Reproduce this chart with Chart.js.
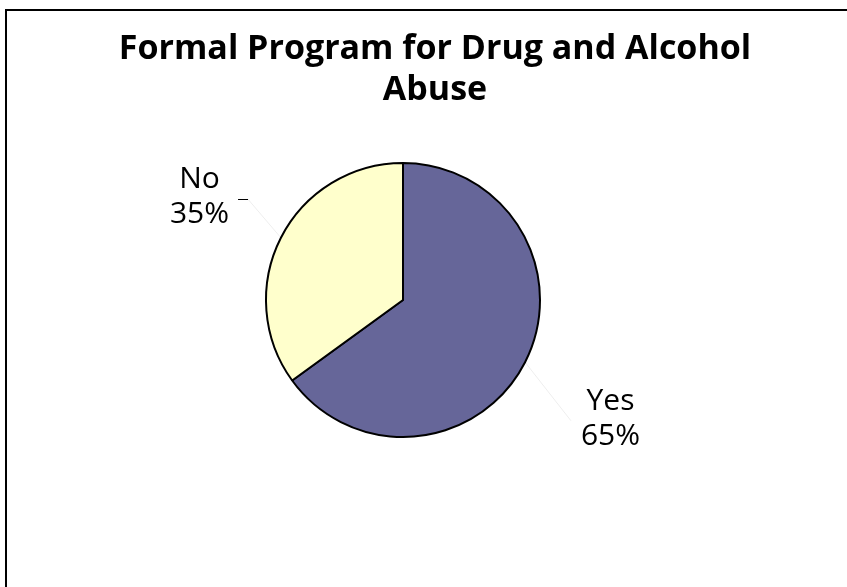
<!DOCTYPE html>
<html>
<head>
<meta charset="utf-8">
<script src="https://cdn.jsdelivr.net/npm/chart.js@4/dist/chart.umd.min.js"></script>
<style>
  html, body { margin: 0; padding: 0; background: #fff; }
  #wrap { position: relative; width: 847px; height: 587px; }
</style>
</head>
<body>
<div id="wrap"><canvas id="c" width="847" height="587"></canvas></div>
<script>
const titleLines = ['Formal Program for Drug and Alcohol', 'Abuse'];
const categories = ['Yes', 'No'];
const values = [65, 35];
const colors = ['#666699', '#FFFFCC'];

const frameAndText = {
  id: 'frameAndText',
  afterDraw(chart) {
    const ctx = chart.ctx;
    ctx.save();
    // outer frame (left & top edges visible)
    ctx.strokeStyle = '#000';
    ctx.lineWidth = 2;
    ctx.beginPath();
    ctx.moveTo(6, 600);
    ctx.lineTo(6, 10);
    ctx.lineTo(860, 10);
    ctx.stroke();

    // title
    ctx.fillStyle = '#000';
    ctx.font = 'bold 34px "Open Sans", "DejaVu Sans", sans-serif';
    ctx.textAlign = 'center';
    ctx.textBaseline = 'alphabetic';
    ctx.fillText(titleLines[0], 435, 59);
    ctx.fillText(titleLines[1], 435, 100);

    // data labels
    const meta = chart.getDatasetMeta(0);
    const total = values.reduce((a, b) => a + b, 0);
    const labelFont = '30px "Open Sans", "DejaVu Sans", sans-serif';
    meta.data.forEach((arc, i) => {
      const p = arc.getProps(['x', 'y', 'startAngle', 'endAngle', 'outerRadius'], true);
      const mid = (p.startAngle + p.endAngle) / 2;
      const dx = Math.cos(mid), dy = Math.sin(mid);
      const r = p.outerRadius;
      const right = dx > 0;
      // label block centre
      const lx = p.x + dx * r * 1.7 + (right ? 0 : 4);
      const ly = p.y + dy * r * 1.7 + (right ? 10 : 0);
      const pct = Math.round(values[i] / total * 100) + '%';
      ctx.font = labelFont;
      const w = Math.max(ctx.measureText(categories[i]).width, ctx.measureText(pct).width);
      const ex = p.x + dx * r, ey = p.y + dy * r;
      const midY = ly + 5;
      // faint leader line
      ctx.strokeStyle = 'rgba(0,0,0,0.07)';
      ctx.lineWidth = 1;
      ctx.beginPath();
      ctx.moveTo(ex, ey);
      if (right) {
        ctx.lineTo(lx - w / 2 - 10, midY);
      } else {
        ctx.lineTo(lx + w / 2 + 19, midY);
      }
      ctx.stroke();
      if (!right) {
        ctx.strokeStyle = '#000';
        ctx.lineWidth = 1;
        ctx.beginPath();
        ctx.moveTo(lx + w / 2 + 9, Math.round(midY) + 0.5);
        ctx.lineTo(lx + w / 2 + 19, Math.round(midY) + 0.5);
        ctx.stroke();
      }
      ctx.fillStyle = '#000';
      ctx.textAlign = 'center';
      ctx.fillText(categories[i], lx, ly - 6);
      ctx.fillText(pct, lx, ly + 29);
    });
    ctx.restore();
  }
};

new Chart(document.getElementById('c'), {
  type: 'pie',
  data: {
    labels: categories,
    datasets: [{
      data: values,
      backgroundColor: colors,
      borderColor: '#000',
      borderWidth: 2
    }]
  },
  options: {
    responsive: false,
    animation: false,
    events: [],
    layout: { padding: { top: 162, bottom: 149, left: 200, right: 241 } },
    plugins: {
      legend: { display: false },
      title: { display: false },
      tooltip: { enabled: false }
    }
  },
  plugins: [frameAndText]
});
</script>
</body>
</html>
